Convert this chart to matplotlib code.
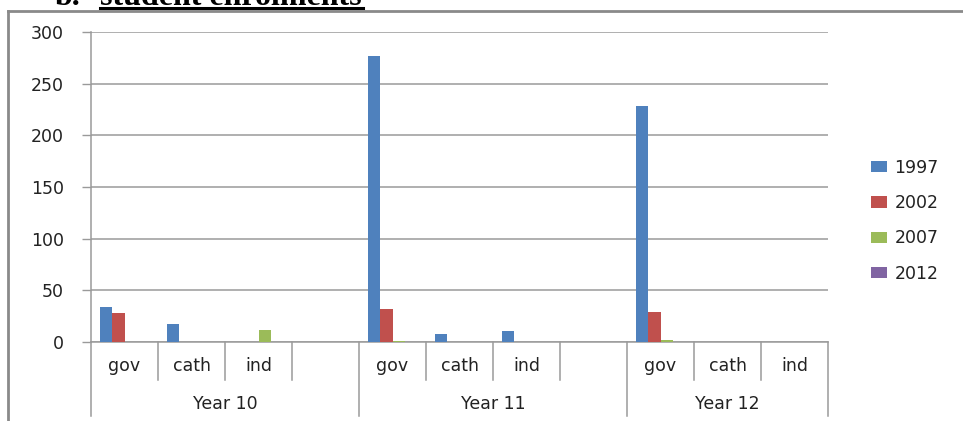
import numpy as np
import matplotlib
matplotlib.use("Agg")
import matplotlib.pyplot as plt
from matplotlib.lines import Line2D
from matplotlib.patches import Patch
import matplotlib.transforms as mtransforms

# ---- data ----
categories = ["gov", "cath", "ind", "", "gov", "cath", "ind", "", "gov", "cath", "ind"]
groups = ["Year 10", "Year 11", "Year 12"]
group_spans = [(0, 3), (4, 7), (8, 10)]  # first/last category index of each group
series_names = ["1997", "2002", "2007", "2012"]
v1997 = [34, 17, 0, np.nan, 277, 8, 11, np.nan, 228, 0, 0]
v2002 = [28, 0, 0, np.nan, 32, 0, 0, np.nan, 29, 0, 0]
v2007 = [0, 0, 12, np.nan, 1, 0, 0, np.nan, 2, 0, 0]
v2012 = [0, 0, 0, np.nan, 0, 0, 0, np.nan, 0, 0, 0]
y_ticks = [0, 50, 100, 150, 200, 250, 300]

colors = ["#4F81BD", "#C0504D", "#9BBB59", "#8064A2"]
series = [v1997, v2002, v2007, v2012]

plt.rcParams["font.family"] = ["DejaVu Sans"]

W, H = 963, 421
fig = plt.figure(figsize=(W / 100, H / 100), dpi=100)
fig.patch.set_facecolor("white")

left, right, top, bottom = 91, 828, 32, 342
ax = fig.add_axes([left / W, 1 - bottom / H, (right - left) / W, (bottom - top) / H])

txtc = "#222222"
gridc = "#9a9a9a"
fs = 12.5

x = np.arange(len(categories))
bw = 0.18
for i, (vals, c, name) in enumerate(zip(series, colors, series_names)):
    ax.bar(x + (i - 1.5) * bw, vals, width=bw, color=c, label=name, linewidth=0, zorder=3)

ax.set_xlim(-0.5, len(categories) - 0.5)
ax.set_ylim(0, 300)
ax.set_yticks(y_ticks)
ax.set_yticklabels([str(t) for t in y_ticks], fontsize=fs, color=txtc)
ax.yaxis.grid(True, color=gridc, linewidth=1.1, zorder=0)
ax.set_axisbelow(True)
ax.tick_params(axis="y", length=6.5, width=1.0, color=gridc, pad=13)
ax.set_xticks([])
for s in ["top", "right"]:
    ax.spines[s].set_visible(False)
ax.spines["left"].set_color(gridc)
ax.spines["left"].set_linewidth(1.1)
ax.spines["bottom"].set_color(gridc)
ax.spines["bottom"].set_linewidth(1.1)

trans = mtransforms.blended_transform_factory(ax.transData, ax.transAxes)
short_y = -38 / (bottom - top)
long_y = -74 / (bottom - top)
cat_y = -24 / (bottom - top)
grp_y = -62 / (bottom - top)

long_bounds = set()
for a, b in group_spans:
    long_bounds.add(a - 0.5)
    long_bounds.add(b + 0.5)
for bnd in np.arange(-0.5, len(categories), 1.0):
    yb = long_y if bnd in long_bounds else short_y
    ax.add_line(Line2D([bnd, bnd], [0, yb], transform=trans, color=gridc,
                       linewidth=1.1, clip_on=False))

for xi, lab in zip(x, categories):
    if lab:
        ax.text(xi, cat_y, lab, transform=trans, ha="center", va="center",
                fontsize=fs, color=txtc)
for (a, b), g in zip(group_spans, groups):
    ax.text((a + b) / 2, grp_y, g, transform=trans,
            ha="center", va="center", fontsize=fs, color=txtc)

handles = [Patch(facecolor=c, edgecolor="none") for c in colors]
leg = fig.legend(handles, series_names, loc="upper left",
                 bbox_to_anchor=(855 / W, 1 - 143 / H), frameon=False,
                 fontsize=fs, handlelength=0.92, handleheight=0.62,
                 handletextpad=0.45, labelspacing=1.0)
for t in leg.get_texts():
    t.set_color(txtc)

# outer frame of the chart area
fig.add_artist(Line2D([8 / W, 1.0], [1 - 10.5 / H, 1 - 10.5 / H], color="#8a8a8a", linewidth=2.0))
fig.add_artist(Line2D([8 / W, 8 / W], [1 - 10.5 / H, 0.0], color="#8a8a8a", linewidth=2.0))

# partially visible heading at the very top (cut off in the reference too)
tf = dict(fontfamily="Liberation Serif", fontweight="bold", fontsize=23, color="black",
          va="baseline")
fig.text(55 / W, 1 - 5 / H, "b.", **tf)
fig.text(100 / W, 1 - 5 / H, "student enrolments", **tf)
fig.add_artist(Line2D([100 / W, 363 / W], [1 - 8 / H, 1 - 8 / H], color="black", linewidth=2.2))

fig.savefig("out.png", dpi=100, facecolor="white")
